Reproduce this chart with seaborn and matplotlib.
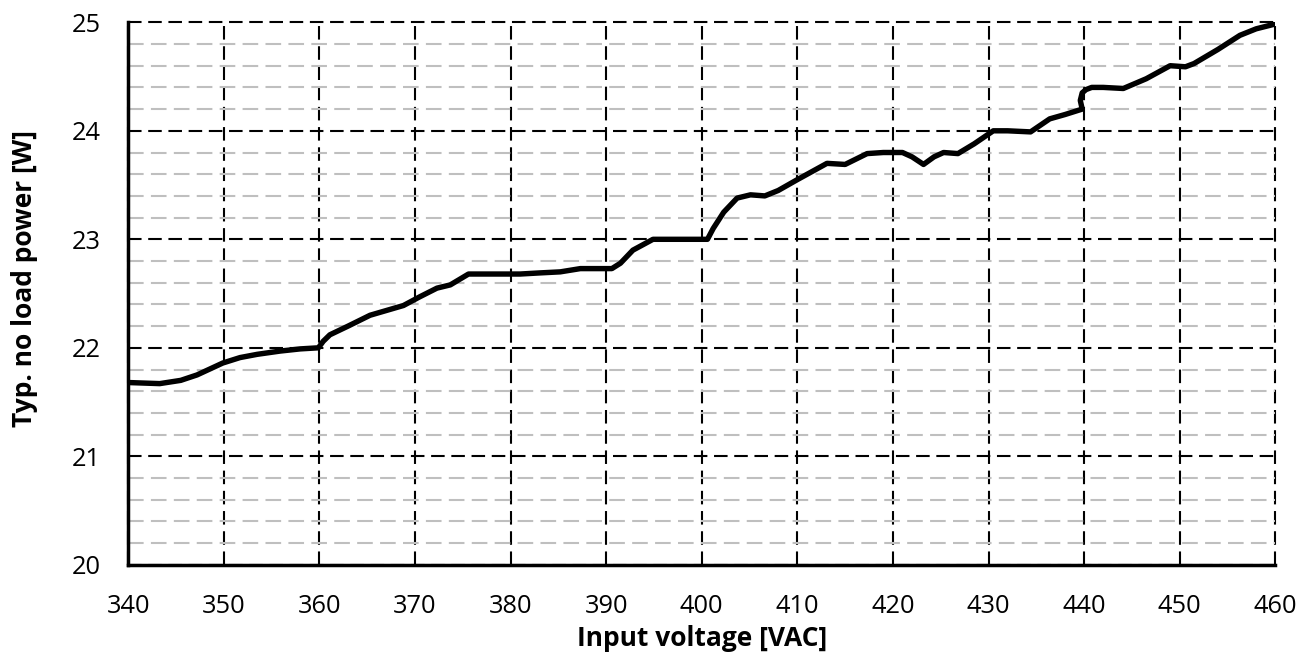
import matplotlib
matplotlib.use("Agg")
import matplotlib.pyplot as plt
import seaborn as sns
import pandas as pd
from matplotlib.ticker import MultipleLocator

voltage = [340, 343.3, 345.5, 347.2, 349.9, 351.7, 353.5, 355.9, 358, 359.9,
           360.4, 361.1, 363, 365.3, 368.8, 370.5, 372.3, 373.7, 375.6, 378, 381,
           383, 385.2, 387.3, 389, 390.6, 391.5, 392.8, 394.9, 397, 399, 400.6,
           401.2, 402.3, 403.7, 405.1, 406.6, 408, 410, 413.1, 415, 417.3, 419, 421,
           422, 423.2, 424.3, 425.3, 426.8, 428.5, 430.5, 432, 434.4, 436.4, 438,
           439.8, 439.6, 439.8, 440.2, 440.8, 442, 444.1, 446.5, 449, 450.6, 451.5,
           454, 456.3, 458, 459.8, 460]
power = [21.68, 21.67, 21.70, 21.75, 21.86, 21.91, 21.94, 21.97, 21.99, 22.0,
         22.06, 22.12, 22.20, 22.30, 22.39, 22.47, 22.55, 22.58, 22.68, 22.68, 22.68,
         22.69, 22.70, 22.73, 22.73, 22.73, 22.78, 22.90, 23.00, 23.00, 23.00, 23.00,
         23.10, 23.25, 23.38, 23.41, 23.40, 23.45, 23.55, 23.70, 23.69, 23.79, 23.80, 23.80,
         23.76, 23.69, 23.76, 23.80, 23.79, 23.88, 24.00, 24.00, 23.99, 24.11, 24.15,
         24.20, 24.28, 24.35, 24.38, 24.40, 24.40, 24.39, 24.48, 24.60, 24.59, 24.62,
         24.75, 24.88, 24.94, 24.98, 24.99]

df = pd.DataFrame({"Input voltage [VAC]": voltage, "Typ. no load power [W]": power})

sns.set_theme(style="white")
plt.rcParams["font.family"] = ["Open Sans", "DejaVu Sans"]

fig = plt.figure(figsize=(13.08, 6.56), dpi=100)
ax = fig.add_axes([0.098, 0.139, 0.877, 0.827])

ax.set_xlim(340, 460)
ax.set_ylim(20, 25)
ax.xaxis.set_major_locator(MultipleLocator(10))
ax.yaxis.set_major_locator(MultipleLocator(1))
ax.yaxis.set_minor_locator(MultipleLocator(0.2))

ax.grid(which="minor", axis="y", color="#bfbfbf", linestyle=(0, (7.5, 3.5)), linewidth=1.5)
ax.grid(which="major", axis="both", color="black", linestyle=(0, (6.5, 3.2)), linewidth=1.5)
for gl in ax.get_xgridlines() + ax.get_ygridlines():
    gl.set_clip_on(False)
ax.set_axisbelow(True)

sns.lineplot(data=df, x="Input voltage [VAC]", y="Typ. no load power [W]",
             sort=False, color="black", linewidth=3.9, ax=ax, estimator=None,
             solid_joinstyle="round", solid_capstyle="round")

for s in ["top", "right"]:
    ax.spines[s].set_visible(False)
for s in ["left", "bottom"]:
    ax.spines[s].set_color("black")
    ax.spines[s].set_linewidth(2.5)
    ax.spines[s].set_zorder(5)

ax.tick_params(axis="both", which="both", length=0, labelsize=18.3, labelcolor="black")
ax.tick_params(axis="x", pad=21)
ax.tick_params(axis="y", pad=20)
ax.set_xlabel("Input voltage [VAC]", fontsize=19, fontweight="bold", color="black", labelpad=4)
ax.set_ylabel("Typ. no load power [W]", fontsize=19, fontweight="bold", color="black")
ax.yaxis.set_label_coords(-0.079, 0.527)

fig.savefig("out.png", dpi=100)
